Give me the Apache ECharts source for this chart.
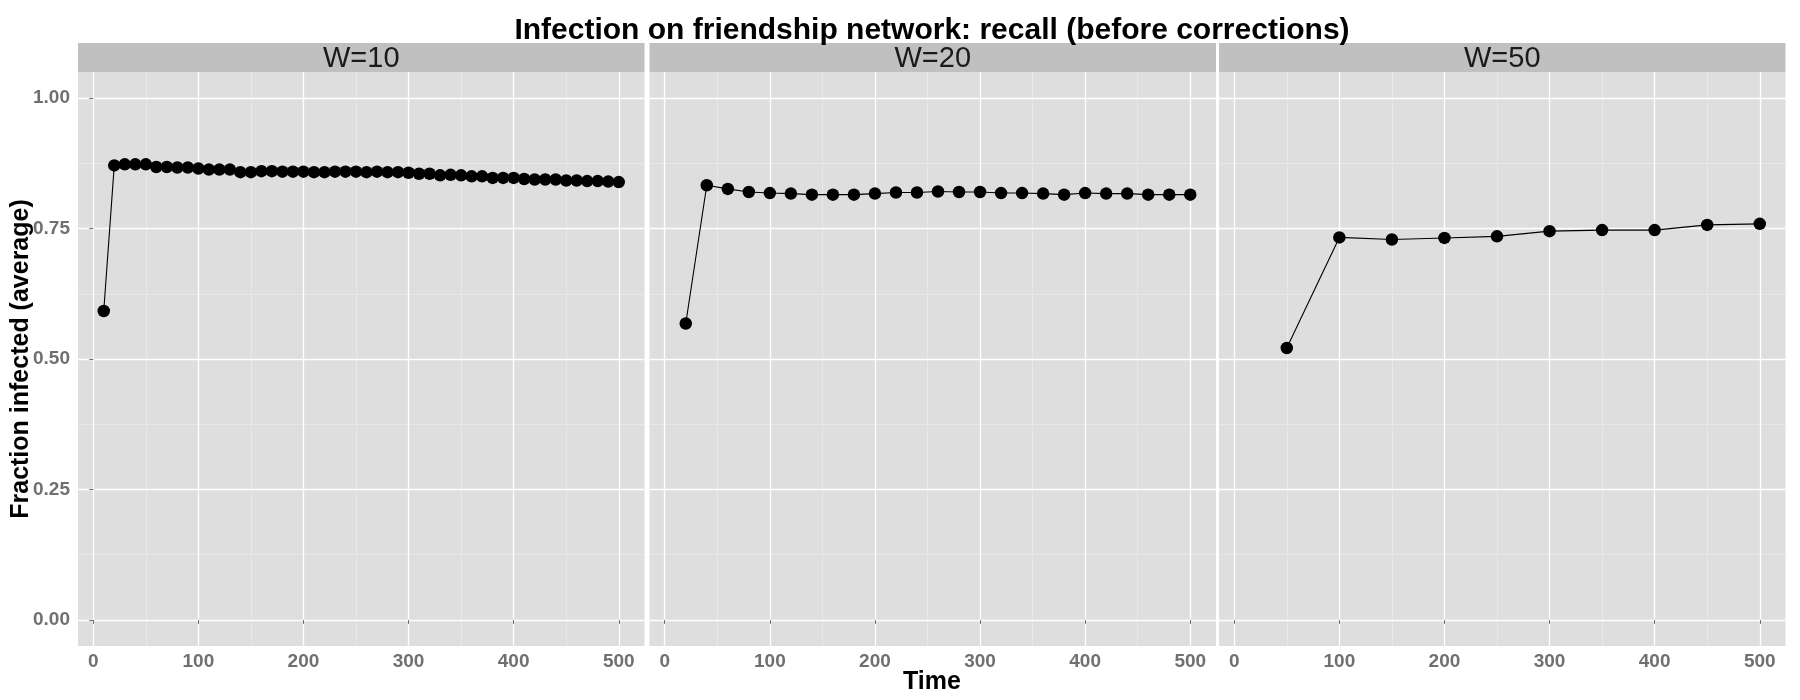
<!DOCTYPE html>
<html>
  <head>
    <meta charset="UTF-8" />
    <title>Infection on friendship network</title>
    <style>
      html, body { margin: 0; padding: 0; background: #fff; }
      #chart { width: 1800px; height: 700px; }
    </style>
    <script type="text/javascript" src="https://cdn.jsdelivr.net/npm/echarts@6/dist/echarts.min.js"></script>
  </head>
  <body>
    <div id="chart"></div>
    <script>
      const chartTitle = "Infection on friendship network: recall (before corrections)";
      const panelNames = ["W=10", "W=20", "W=50"];

      const timeW10 = [10, 20, 30, 40, 50, 60, 70, 80, 90, 100, 110, 120, 130, 140, 150, 160, 170, 180, 190, 200,
        210, 220, 230, 240, 250, 260, 270, 280, 290, 300, 310, 320, 330, 340, 350, 360, 370, 380, 390, 400,
        410, 420, 430, 440, 450, 460, 470, 480, 490, 500];
      const fracW10 = [0.592, 0.871, 0.873, 0.873, 0.873, 0.868, 0.868, 0.867, 0.867, 0.865, 0.863, 0.863, 0.863, 0.858, 0.858, 0.860, 0.860, 0.859, 0.859, 0.859,
        0.858, 0.858, 0.859, 0.859, 0.859, 0.858, 0.859, 0.858, 0.858, 0.857, 0.855, 0.855, 0.852, 0.853, 0.852, 0.850, 0.850, 0.847, 0.847, 0.847,
        0.845, 0.844, 0.844, 0.844, 0.842, 0.842, 0.841, 0.841, 0.840, 0.839];

      const timeW20 = [20, 40, 60, 80, 100, 120, 140, 160, 180, 200, 220, 240, 260, 280, 300, 320, 340, 360, 380, 400, 420, 440, 460, 480, 500];
      const fracW20 = [0.568, 0.833, 0.826, 0.820, 0.818, 0.817, 0.815, 0.815, 0.815, 0.817, 0.819, 0.819, 0.821, 0.820, 0.820, 0.818, 0.818, 0.817, 0.815, 0.818, 0.817, 0.817, 0.815, 0.815, 0.815];

      const timeW50 = [50, 100, 150, 200, 250, 300, 350, 400, 450, 500];
      const fracW50 = [0.521, 0.733, 0.729, 0.732, 0.735, 0.745, 0.747, 0.747, 0.757, 0.759];

      const xTicks = [0, 100, 200, 300, 400, 500];
      const xMinorTicks = [50, 150, 250, 350, 450];
      const yTicks = [0, 0.25, 0.5, 0.75, 1.0];
      const yMinorTicks = [0.125, 0.375, 0.625, 0.875];

      const times = [timeW10, timeW20, timeW50];
      const fracs = [fracW10, fracW20, fracW50];

      // layout (pixels) of the three facets
      const panelLeft = [78, 649.5, 1219];
      const panelWidth = 566.5;
      const panelTop = 72;
      const panelBottom = 54;
      const stripTop = 43;
      const stripHeight = 29;

      const fontFamily = "'Liberation Sans', Arial, sans-serif";
      const tickColor = "#707070";

      const chart = echarts.init(document.getElementById("chart"));

      const grids = [], xAxes = [], yAxes = [], series = [], graphics = [];

      panelNames.forEach(function (name, i) {
        grids.push({
          left: panelLeft[i], width: panelWidth, top: panelTop, bottom: panelBottom,
          show: true, backgroundColor: "#dedede", borderWidth: 0
        });

        // major axes
        xAxes.push({
          gridIndex: i, type: "value", min: -14.5, max: 524.5, z: 1,
          axisLine: { show: false },
          axisTick: { show: true, length: 4, lineStyle: { color: tickColor }, customValues: xTicks },
          axisLabel: { customValues: xTicks, color: tickColor, fontSize: 19, fontWeight: "bold", fontFamily: fontFamily, margin: 6 },
          splitLine: { show: true, lineStyle: { color: "#ffffff", width: 1.3 } }
        });
        yAxes.push({
          gridIndex: i, type: "value", min: -0.05, max: 1.05, z: 1,
          axisLine: { show: false },
          axisTick: { show: i === 0, length: 4, lineStyle: { color: tickColor }, customValues: yTicks },
          axisLabel: {
            show: i === 0, customValues: yTicks, color: tickColor, fontSize: 19, fontWeight: "bold", fontFamily: fontFamily, margin: 8,
            formatter: function (v) { return v.toFixed(2); }
          },
          splitLine: { show: true, lineStyle: { color: "#ffffff", width: 1.3 } }
        });

        // lighter minor grid
        xAxes.push({
          gridIndex: i, type: "value", min: -14.5, max: 524.5, position: "bottom",
          axisLine: { show: false },
          axisTick: { show: false, customValues: xMinorTicks },
          axisLabel: { show: false },
          splitLine: { show: true, lineStyle: { color: "#e8e8e8", width: 1 } }
        });
        yAxes.push({
          gridIndex: i, type: "value", min: -0.05, max: 1.05, position: "left",
          axisLine: { show: false },
          axisTick: { show: false, customValues: yMinorTicks },
          axisLabel: { show: false },
          splitLine: { show: true, lineStyle: { color: "#e8e8e8", width: 1 } }
        });

        series.push({
          name: name,
          type: "line",
          xAxisIndex: 2 * i,
          yAxisIndex: 2 * i,
          data: times[i].map(function (t, k) { return [t, fracs[i][k]]; }),
          symbol: "circle",
          symbolSize: 12.5,
          itemStyle: { color: "#000000" },
          lineStyle: { color: "#000000", width: 1.1 },
          animation: false,
          z: 3
        });

        // facet strip
        graphics.push({
          type: "rect",
          shape: { x: panelLeft[i], y: stripTop, width: panelWidth, height: stripHeight },
          style: { fill: "#c0c0c0" }
        });
        graphics.push({
          type: "text",
          x: panelLeft[i] + panelWidth / 2,
          y: stripTop + stripHeight / 2 + 1,
          style: { text: name, fill: "#1a1a1a", font: "29px " + fontFamily, textAlign: "center", textVerticalAlign: "middle" }
        });
      });

      graphics.push({
        type: "text", x: 932, y: 31,
        style: { text: chartTitle, fill: "#000", font: "bold 30px " + fontFamily, textAlign: "center", textVerticalAlign: "middle" }
      });
      graphics.push({
        type: "text", x: 932, y: 682,
        style: { text: "Time", fill: "#000", font: "bold 25px " + fontFamily, textAlign: "center", textVerticalAlign: "middle" }
      });
      graphics.push({
        type: "text", x: 21, y: 359, rotation: Math.PI / 2,
        style: { text: "Fraction infected (average)", fill: "#000", font: "bold 25px " + fontFamily, textAlign: "center", textVerticalAlign: "middle" }
      });

      chart.setOption({
        animation: false,
        backgroundColor: "#ffffff",
        grid: grids,
        xAxis: xAxes,
        yAxis: yAxes,
        series: series,
        graphic: graphics
      });
    </script>
  </body>
</html>
